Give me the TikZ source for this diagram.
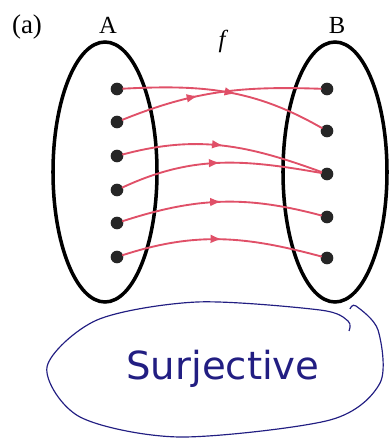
\documentclass[tikz,border=0pt]{standalone}
\usepackage{fontspec}
\setmainfont{Liberation Serif}
\newfontfamily\handfont{DejaVu Sans}
\usetikzlibrary{
    arrows.meta,         % For arrow tips
    decorations.markings,% For arrows along the maps
    positioning
}
\definecolor{mapred}{RGB}{224,80,104}
\definecolor{penblue}{RGB}{34,30,130}

\begin{document}
\begin{tikzpicture}[
    x=0.3cm, y=0.3cm,
    >=Latex,
    setline/.style={line width=3pt}, % Style for the sets A, B
    dot/.style={circle, fill=black!85, inner sep=0pt, minimum size=3.8mm},
    maparrow/.style={mapred, line width=1.6pt, shorten <=-1pt, shorten >=-1pt},
    % arrow tip placed along a map
    midarrow/.style={
        decoration={markings, mark=at position #1 with {\arrow{Latex[length=3.4mm,width=2.6mm]}}},
        postaction={decorate}
    },
    midarrow/.default=0.5
]
    \useasboundingbox (0,0) rectangle (39.1,44.3);

    % Sets
    \draw[setline] (10.5,27.1) ellipse (5.2 and 13.0);
    \draw[setline] (33.5,27.1) ellipse (5.2 and 13.0);

    % Labels
    \node[font=\fontsize{23}{26}\selectfont] (lbl) at (2.7,41.6) {(a)};
    \node[font=\fontsize{21}{24}\selectfont] (setA) at (10.8,41.8) {A};
    \node[font=\fontsize{21}{24}\selectfont] (setB) at (33.7,41.8) {B};
    \node[font=\fontsize{21}{24}\selectfont\itshape] (fname) at (22.2,40.2) {f};

    % Elements of A
    \foreach \n/\y in {1/35.4, 2/32.1, 3/28.7, 4/25.3, 5/22.0, 6/18.6}
        \node[dot] (a\n) at (11.7,\y) {};
    % Elements of B
    \foreach \n/\y in {1/35.4, 2/31.2, 3/26.9, 4/22.6, 5/18.5}
        \node[dot] (b\n) at (32.7,\y) {};

    % The map f
    \draw[maparrow, midarrow=0.55] (a1) to[out=3, in=150] (b2);
    \draw[maparrow, midarrow=0.39] (a2) to[out=22, in=178] (b1);
    \draw[maparrow, midarrow=0.5] (a3) to[out=15, in=160] (b3);
    \draw[maparrow, midarrow=0.5] (a4) to[out=25, in=170] (b3);
    \draw[maparrow, midarrow=0.5] (a5) to[out=18, in=165] (b4);
    \draw[maparrow, midarrow=0.5] (a6) to[out=18, in=165] (b5);

    % Hand-drawn note
    \draw[penblue, line width=1pt] plot[smooth] coordinates {
        (34.9,11.2) (34.8,12.2) (32.0,13.3) (19.7,14.1) (9.7,12.3) (4.7,7.6) (8.0,2.6)
        (18.0,0.6) (33.0,2.3) (38.0,6.0) (37.8,11.3) (35.6,13.7) (35.0,13.4)};
    \node[penblue, font=\handfont\fontsize{33}{36}\selectfont] (note) at (22.3,7.4) {Surjective};
\end{tikzpicture}
\end{document}
